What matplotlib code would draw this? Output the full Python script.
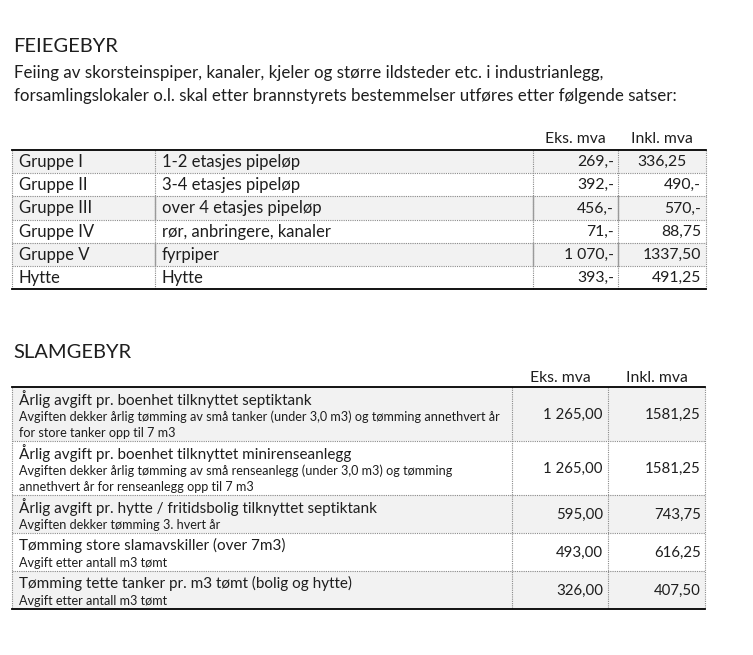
import matplotlib
matplotlib.use("Agg")
import matplotlib.pyplot as plt

plt.rcParams['font.family'] = ['Lato', 'DejaVu Sans']

# --- data ---
intro = ["Feiing av skorsteinspiper, kanaler, kjeler og større ildsteder etc. i industrianlegg,",
         "forsamlingslokaler o.l. skal etter brannstyrets bestemmelser utføres etter følgende satser:"]
kolonner = ["Eks. mva", "Inkl. mva"]

feie_gruppe = ["Gruppe I", "Gruppe II", "Gruppe III", "Gruppe IV", "Gruppe V", "Hytte"]
feie_tekst = ["1-2 etasjes pipeløp", "3-4 etasjes pipeløp", "over 4 etasjes pipeløp",
              "rør, anbringere, kanaler", "fyrpiper", "Hytte"]
feie_eks = ["269,-", "392,-", "456,-", "71,-", "1 070,-", "393,-"]
feie_inkl = ["336,25", "490,-", "570,-", "88,75", "1337,50", "491,25"]

slam_tittel = ["Årlig avgift pr. boenhet tilknyttet septiktank",
               "Årlig avgift pr. boenhet tilknyttet minirenseanlegg",
               "Årlig avgift pr. hytte / fritidsbolig tilknyttet septiktank",
               "Tømming store slamavskiller (over 7m3)",
               "Tømming tette tanker pr. m3 tømt (bolig og hytte)"]
slam_merknad = [["Avgiften dekker årlig tømming av små tanker (under 3,0 m3) og tømming annethvert år",
                 "for store tanker opp til 7 m3"],
                ["Avgiften dekker årlig tømming av små renseanlegg (under 3,0 m3) og tømming",
                 "annethvert år for renseanlegg opp til 7 m3"],
                ["Avgiften dekker tømming 3. hvert år"],
                ["Avgift etter antall m3 tømt"],
                ["Avgift etter antall m3 tømt"]]
slam_eks = ["1 265,00", "1 265,00", "595,00", "493,00", "326,00"]
slam_inkl = ["1581,25", "1581,25", "743,75", "616,25", "407,50"]

TXT = '#1e1e1e'
SHADE = '#f2f2f2'
DOT = dict(color='#8a8a8a', lw=0.8, ls=(0, (1, 1)))

fig = plt.figure(figsize=(7.53, 6.55), dpi=100)
ax = fig.add_axes([0, 0, 1, 1])
ax.set_xlim(0, 753)
ax.set_ylim(655, 0)
ax.axis('off')

# ---------- FEIEGEBYR ----------
ax.text(13, 47, "FEIEGEBYR", fontsize=14.5, color=TXT, va='center')
for i, s in enumerate(intro):
    ax.text(14, 73 + i * 23, s, fontsize=12.15, color=TXT, va='center')

xs = [12, 155, 533, 618, 706]
top, rh = 150, 23.2
ax.text((xs[2] + xs[3]) / 2, 139, kolonner[0], fontsize=11.3, color=TXT, ha='center', va='center')
ax.text((xs[3] + xs[4]) / 2, 139, kolonner[1], fontsize=11.3, color=TXT, ha='center', va='center')
n = len(feie_gruppe)
for i in range(n):
    y0 = top + i * rh
    if i % 2 == 0:
        ax.fill_between([xs[0], xs[-1]], y0, y0 + rh, color=SHADE, lw=0)
    if i > 0:
        ax.plot([xs[0], xs[-1]], [y0, y0], **DOT)
    yc = y0 + rh / 2 + 0.5
    ax.text(19, yc, feie_gruppe[i], fontsize=12, color=TXT, va='center')
    ax.text(162, yc, feie_tekst[i], fontsize=12, color=TXT, va='center')
    ax.text(xs[3] - 4, yc, feie_eks[i], fontsize=11.3, color=TXT, va='center', ha='right')
    if i == 0:
        ax.text((xs[3] + xs[4]) / 2, yc, feie_inkl[i], fontsize=11.3, color=TXT, va='center', ha='center')
    else:
        ax.text(xs[4] - 5, yc, feie_inkl[i], fontsize=11.3, color=TXT, va='center', ha='right')
bot = top + n * rh
for x in xs:
    ax.plot([x, x], [top, bot], **DOT)
# darker solid column lines on shaded rows III and V
for i in (2, 4):
    for x in xs[1:4]:
        ax.plot([x, x], [top + i * rh, top + (i + 1) * rh], color='#9a9a9a', lw=1.0)
ax.plot([xs[0], xs[-1]], [top, top], color='black', lw=1.3)
ax.plot([xs[0], xs[-1]], [bot, bot], color='black', lw=1.3)

# ---------- SLAMGEBYR ----------
ax.text(13, 352, "SLAMGEBYR", fontsize=14.5, color=TXT, va='center')
xs2 = [12, 512, 608, 705]
ax.text((xs2[1] + xs2[2]) / 2, 378, kolonner[0], fontsize=11.3, color=TXT, ha='center', va='center')
ax.text((xs2[2] + xs2[3]) / 2, 378, kolonner[1], fontsize=11.3, color=TXT, ha='center', va='center')
top2 = 387
y0 = top2
for i in range(len(slam_tittel)):
    h = 6 + 16 * (1 + len(slam_merknad[i]))
    if i % 2 == 0:
        ax.fill_between([xs2[0], xs2[-1]], y0, y0 + h, color=SHADE, lw=0)
    if i > 0:
        ax.plot([xs2[0], xs2[-1]], [y0, y0], **DOT)
    ax.text(19, y0 + 12, slam_tittel[i], fontsize=11, color=TXT, va='center')
    for j, s in enumerate(slam_merknad[i]):
        ax.text(19, y0 + 30 + 16 * j, s, fontsize=9.1, color=TXT, va='center')
    yc = y0 + h / 2 + 1
    ax.text(xs2[2] - 5, yc, slam_eks[i], fontsize=10.8, color=TXT, va='center', ha='right')
    ax.text(xs2[3] - 4, yc, slam_inkl[i], fontsize=10.8, color=TXT, va='center', ha='right')
    y0 += h
bot2 = y0
for x in xs2:
    ax.plot([x, x], [top2, bot2], **DOT)
ax.plot([xs2[0], xs2[-1]], [top2, top2], color='black', lw=1.3)
ax.plot([xs2[0], xs2[-1]], [bot2, bot2], color='black', lw=1.3)

fig.savefig("out.png", dpi=100)
